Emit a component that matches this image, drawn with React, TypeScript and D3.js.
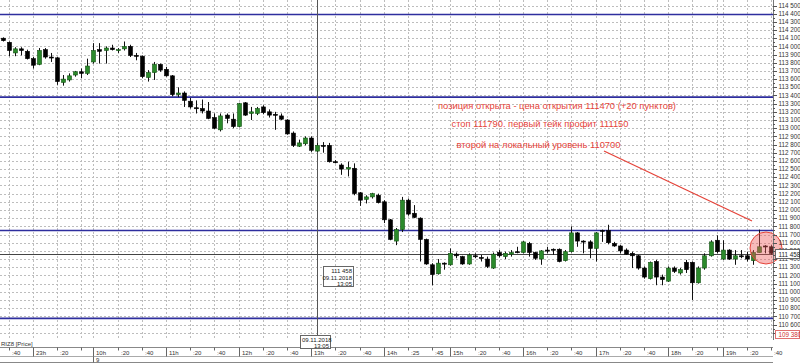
import React from 'react';
import * as d3 from 'd3';

// ---- data (5-minute candles, RIZ8) ----
const openP = [
114100,114050,113920,113970,113940,113850,113780,113960,113870,113860,
113560,113590,113650,113690,113670,113810,113960,113950,113980,113950,
113970,114000,113890,113880,113620,113680,113780,113720,113640,113410,
113430,113330,113250,113240,113210,113130,112980,113160,113110,113020,
113310,113180,113180,113260,113200,113170,113150,113100,112940,112780,
112810,112880,112720,112790,112790,112590,112550,112500,112510,112210,
112130,112160,112180,112100,111880,111620,111760,112120,111960,111900,
111640,111330,111220,111350,111330,111460,111430,111340,111440,111420,
111400,111290,111480,111430,111460,111490,111480,111590,111480,111400,
111510,111520,111520,111380,111490,111720,111620,111610,111530,111750,
111750,111590,111560,111510,111470,111440,111290,111160,111370,111180,
111130,111290,111230,111360,111360,111110,111290,111440,111630,111400,
111510,111400,111440,111440,111380,111480,111560,111550];
const highP = [
114110,114060,113990,113990,113960,113870,113980,113980,113920,113870,
113650,113670,113700,113730,113850,114040,114040,114000,114020,113980,
114060,114020,113920,113890,113710,113810,113790,113750,113650,113500,
113450,113370,113340,113350,113320,113180,113180,113180,113180,113310,
113320,113260,113260,113280,113230,113200,113180,113110,112960,112860,
112900,112900,112820,112830,112820,112610,112570,112590,112570,112220,
112180,112210,112200,112120,111890,111780,112160,112140,112060,111910,
111650,111350,111400,111360,111530,111480,111440,111470,111470,111450,
111430,111480,111510,111490,111510,111550,111620,111610,111490,111510,
111550,111530,111530,111510,111800,111730,111630,111630,111730,111760,
111820,111610,111570,111530,111490,111450,111310,111370,111390,111210,
111310,111310,111290,111390,111370,111310,111470,111630,111690,111630,
111520,111510,111510,111490,111510,111760,111570,111570];
const lowP = [
114060,113880,113880,113890,113840,113730,113770,113850,113810,113530,
113520,113570,113630,113610,113650,113790,113790,113790,113950,113920,
113950,113870,113830,113610,113570,113590,113690,113630,113390,113380,
113260,113240,113180,113180,113110,112990,112960,113060,113000,113010,
113150,113100,113160,113170,113130,112980,113100,112920,112770,112770,
112790,112710,112710,112700,112580,112570,112430,112410,112180,112050,
112080,112140,112080,111840,111630,111570,111730,111930,111900,111370,
111330,111080,111210,111270,111320,111410,111330,111330,111410,111370,
111290,111280,111420,111400,111430,111470,111470,111430,111390,111330,
111470,111450,111360,111370,111480,111550,111470,111410,111370,111610,
111580,111550,111470,111450,111290,111270,111160,111150,111080,111080,
111120,111230,111210,111230,110900,111100,111270,111430,111470,111390,
111390,111330,111410,111370,111330,111480,111470,111450];
const closeP = [
114070,113950,113970,113950,113850,113770,113950,113870,113860,113570,
113600,113640,113690,113670,113760,113950,113940,113980,113960,113960,
114000,113890,113880,113630,113680,113780,113710,113640,113410,113430,
113340,113260,113240,113210,113120,113000,113150,113120,113020,113300,
113160,113200,113240,113190,113160,113160,113110,112930,112790,112820,
112880,112730,112790,112780,112590,112580,112500,112520,112200,112120,
112160,112200,112090,111880,111640,111760,112120,111950,111910,111640,
111340,111210,111350,111340,111470,111440,111340,111450,111430,111410,
111310,111460,111440,111470,111480,111480,111610,111480,111410,111500,
111500,111510,111370,111490,111720,111620,111610,111530,111720,111740,
111600,111560,111500,111460,111440,111290,111180,111360,111180,111150,
111290,111250,111270,111270,111110,111290,111440,111610,111490,111510,
111400,111440,111430,111400,111480,111550,111550,111470];

const timeTickIdx = [1,5,9,13,15,19,23,27,31,35,39,43,47,51,55,59,63,67,71,74,78,82,86,90,94,98,102,106,110,114,118,119,123,127];
const timeTickLabels = [":40","23h",":20","","10h",":20",":40","11h",":20",":40","12h",":20",":40","13h",":20",":40","14h",":25",":45","15h",":20",":40","16h",":20",":40","17h",":20",":40","18h",":20","","19h",":20",":40"];
const dayIdx = [15];
const dayLabels = ["9"];

const levelPrices = [114390, 113380, 111750, 110675];
const crossPrice = 111458;
const crossIdx = 52;
const crossDate = "09.11.2018";
const crossTime = "13:05";
const bottomPrice = 109380;
const seriesName = "RIZ8 [Price]";

const notes = [
  "позиция открыта - цена открытия 111470 (+20 пунктов)",
  "стоп 111790. первый тейк профит 111150",
  "второй на локальный уровень 110700",
];

const W = 800, H = 364;
const FONT = "'Liberation Sans', Arial, sans-serif";
const AX = 773;

const fmt = (p: number) => `${Math.floor(p / 1000)} ${String(p % 1000).padStart(3, '0')}`;

export default function App() {
  const x = d3.scaleLinear().domain([0, openP.length - 1]).range([2.7, 771]);
  const y = d3.scaleLinear().domain([110600, 114500]).range([324.5, 5.5]);
  const gridPrices = d3.range(110500, 114501, 100);
  const labelPrices = d3.range(110600, 114501, 100);
  const minorPrices = d3.range(110500, 114550, 50);
  const bw = 4;
  const red = '#e5443a';
  const cx = x(crossIdx);
  const cy = y(crossPrice);
  const lastX = x(openP.length - 1);
  return (
    <svg width={W} height={H} style={{ position: 'fixed', left: 0, top: 0, background: '#fff' }} fontFamily={FONT}>
      <rect x={0} y={0} width={W} height={H} fill="#fff" />
      {/* grid */}
      {gridPrices.map((p) => (
        <line key={'h' + p} x1={0} x2={AX} y1={Math.round(y(p)) + 0.5} y2={Math.round(y(p)) + 0.5} stroke="#bdbdbd" strokeDasharray="2,2" strokeWidth={1} />
      ))}
      {timeTickIdx.map((i) => (
        <line key={'v' + i} x1={Math.round(x(i)) + 0.5} x2={Math.round(x(i)) + 0.5} y1={0} y2={338} stroke="#bdbdbd" strokeDasharray="2,2" strokeWidth={1} />
      ))}
      {/* levels */}
      {levelPrices.map((p) => (
        <line key={'l' + p} x1={0} x2={AX} y1={y(p)} y2={y(p)} stroke="#2e2e9e" strokeWidth={1.6} />
      ))}
      {/* crosshair */}
      <line x1={Math.round(cx) + 0.5} x2={Math.round(cx) + 0.5} y1={0} y2={347} stroke="#555" strokeWidth={1} />
      <line x1={0} x2={AX} y1={Math.round(cy) + 0.5} y2={Math.round(cy) + 0.5} stroke="#444" strokeWidth={1} />
      {/* candles */}
      {openP.map((o, i) => {
        const c = closeP[i];
        const up = c > o;
        const top = y(Math.max(o, c));
        const bot = y(Math.min(o, c));
        const xc = Math.round(x(i));
        return (
          <g key={'c' + i}>
            <line x1={xc + 0.5} x2={xc + 0.5} y1={y(highP[i])} y2={y(lowP[i])} stroke="#111" strokeWidth={1} />
            <rect x={xc - bw / 2 + 0.5} y={top} width={bw} height={Math.max(1, bot - top)} fill={up ? '#2b8a2b' : '#000'} stroke={up ? '#145214' : '#000'} strokeWidth={0.6} />
          </g>
        );
      })}
      {/* annotations */}
      <text x={438} y={109} fill={red} fontSize={9} textLength={238} lengthAdjust="spacingAndGlyphs">{notes[0]}</text>
      <text x={451.5} y={126.5} fill={red} fontSize={9} textLength={177} lengthAdjust="spacingAndGlyphs">{notes[1]}</text>
      <text x={456.5} y={148} fill={red} fontSize={9} textLength={164} lengthAdjust="spacingAndGlyphs">{notes[2]}</text>
      <line x1={604} y1={151} x2={752} y2={221} stroke={red} strokeWidth={1.3} />
      <circle cx={lastX - 5} cy={248} r={16} fill="rgba(238,90,90,0.42)" stroke={red} strokeWidth={1} />
      {/* crosshair info box */}
      <rect x={323.5} y={266.5} width={30} height={20} fill="#fff" stroke="#666" strokeWidth={1} />
      <g fontSize={6} fill="#222" textAnchor="end">
        <text x={352} y={273}>{fmt(crossPrice)}</text>
        <text x={352} y={279.5}>{crossDate}</text>
        <text x={352} y={286}>{crossTime}</text>
      </g>
      {/* right axis */}
      <line x1={AX + 0.5} x2={AX + 0.5} y1={0} y2={340} stroke="#777" />
      {minorPrices.map((p) => (
        <line key={'m' + p} x1={AX} x2={AX + (p % 100 === 0 ? 4 : 2)} y1={Math.round(y(p)) + 0.5} y2={Math.round(y(p)) + 0.5} stroke="#555" />
      ))}
      {labelPrices.map((p) => (
        <text key={'t' + p} x={778.5} y={y(p)} dy="0.35em" fontSize={6.3} fill="#333">{fmt(p)}</text>
      ))}
      <rect x={775.5} y={Math.round(cy) - 4.5} width={24} height={9} fill="#fff" stroke="#666" />
      <text x={778.5} y={cy} dy="0.35em" fontSize={6.3} fill="#222">{fmt(crossPrice)}</text>
      <rect x={775.5} y={330.5} width={24} height={8} fill="#fff" stroke="#e07070" />
      <text x={778.5} y={335} dy="0.35em" fontSize={6.3} fill="#d03030">{fmt(bottomPrice)}</text>
      {/* legend */}
      <text x={1} y={346} fontSize={6} fill="#333">{seriesName}</text>
      {/* time axis */}
      <line x1={0} x2={AX} y1={347.5} y2={347.5} stroke="#888" />
      <line x1={0} x2={AX} y1={356.5} y2={356.5} stroke="#aaa" />
      <line x1={0} x2={AX} y1={362.5} y2={362.5} stroke="#888" />
      {timeTickIdx.map((i, k) => {
        const lab = timeTickLabels[k];
        const hour = lab.endsWith('h');
        const xt = Math.round(x(i)) + 0.5;
        return (
          <g key={'tt' + i}>
            <line x1={xt} x2={xt} y1={347.5} y2={hour ? 356.5 : 350.5} stroke="#666" />
            {lab && <text x={xt + 2.5} y={354.5} fontSize={6} fill="#333">{lab}</text>}
          </g>
        );
      })}
      {dayIdx.map((i, k) => (
        <g key={'d' + i}>
          <line x1={Math.round(x(i)) + 0.5} x2={Math.round(x(i)) + 0.5} y1={356.5} y2={362.5} stroke="#666" />
          <text x={Math.round(x(i)) + 3} y={362} fontSize={6} fill="#333">{dayLabels[k]}</text>
        </g>
      ))}
      {/* axis date box */}
      <rect x={300.5} y={335.5} width={30} height={13} fill="#fff" stroke="#666" />
      <text x={302} y={341.5} fontSize={6} fill="#222">{crossDate}</text>
      <text x={329} y={348} fontSize={6} fill="#222" textAnchor="end">{crossTime}</text>
    </svg>
  );
}
